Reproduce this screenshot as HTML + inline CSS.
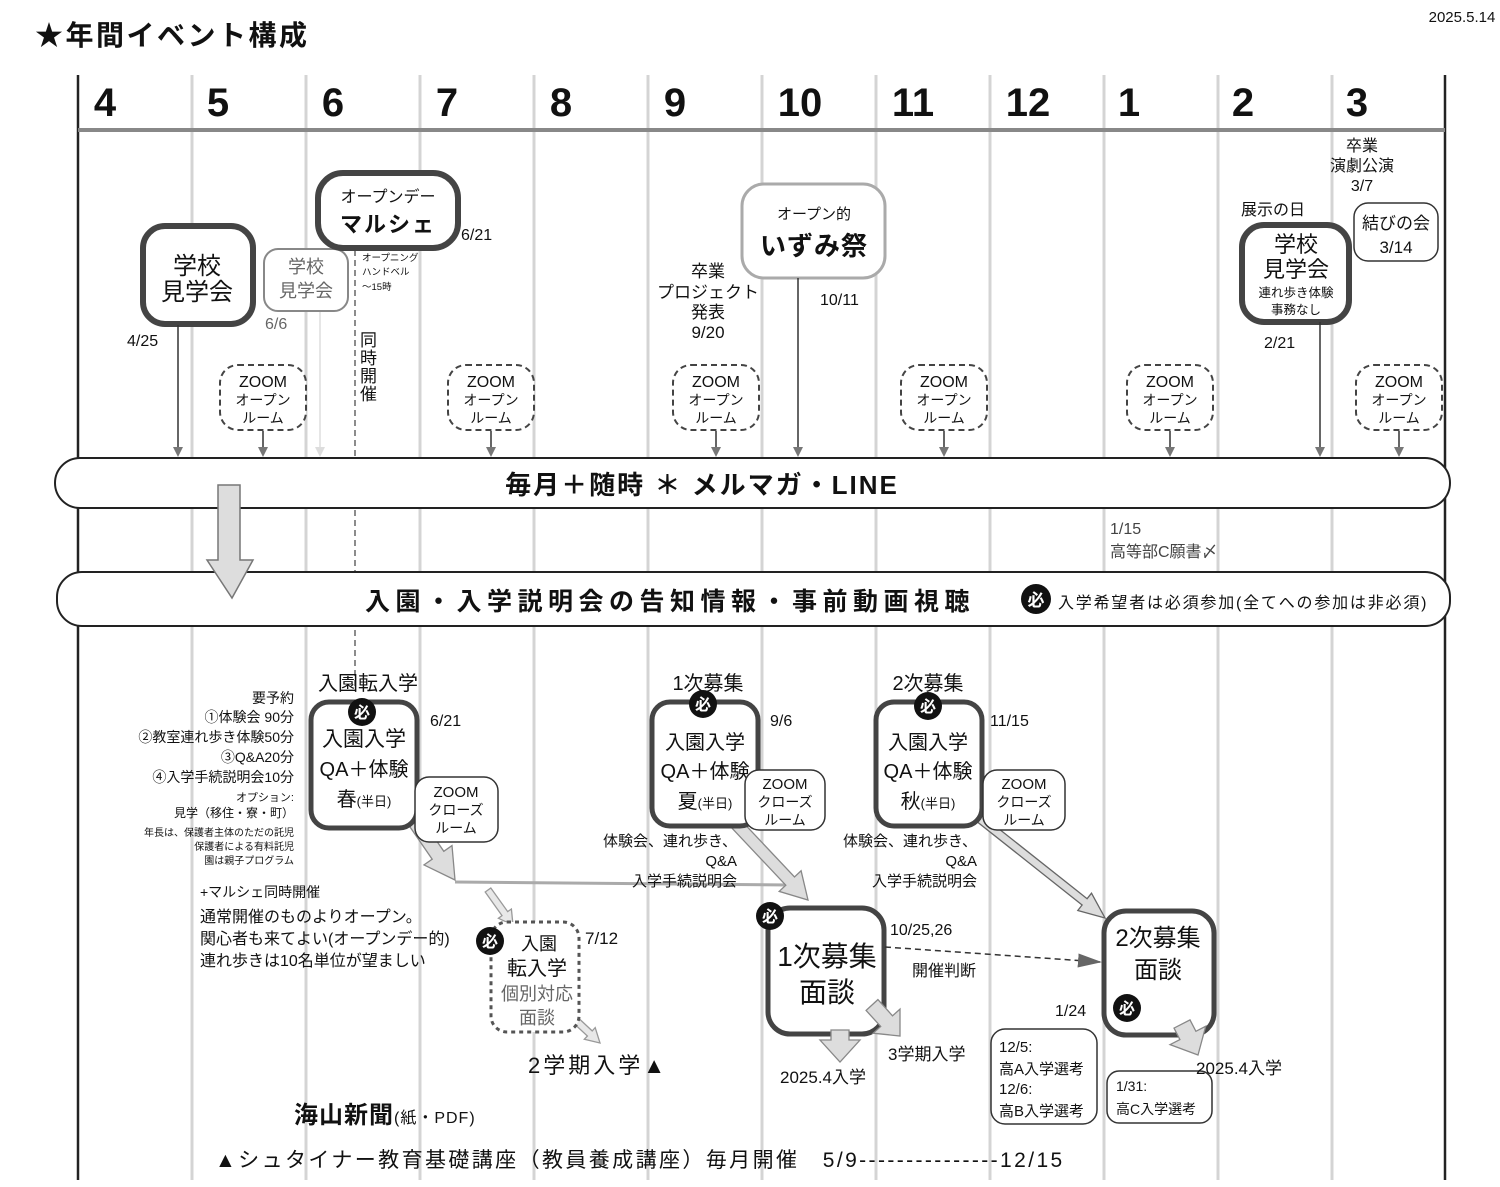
<!DOCTYPE html>
<html><head><meta charset="utf-8"><style>
html,body{margin:0;padding:0;background:#fff}
svg{display:block}
text{font-family:"Liberation Sans","Noto Sans CJK JP",sans-serif;fill:#111}
.b{font-weight:bold}
.c{text-anchor:middle}
.r{text-anchor:end}
</style></head><body>
<svg id="s" width="1500" height="1187" viewBox="0 0 1500 1187" xmlns="http://www.w3.org/2000/svg">
<defs>
<marker id="ah" markerWidth="10" markerHeight="10" refX="8" refY="5" orient="auto" markerUnits="userSpaceOnUse"><path d="M0,0 L10,5 L0,10 z" fill="#777"/></marker>
<marker id="ahl" markerWidth="10" markerHeight="10" refX="8" refY="5" orient="auto" markerUnits="userSpaceOnUse"><path d="M0,0 L10,5 L0,10 z" fill="#ddd"/></marker>
<marker id="ahd" markerWidth="24" markerHeight="14" refX="22" refY="7" orient="auto" markerUnits="userSpaceOnUse"><path d="M0,0 L24,7 L0,14 z" fill="#666"/></marker>
</defs>
<text x="35" y="45" font-size="28" class="b" letter-spacing="2.5">★年間イベント構成</text>
<text x="1462" y="22" font-size="15" class="c">2025.5.14</text>
<g stroke="#d4d4d4" stroke-width="3">
<line x1="192" y1="75" x2="192" y2="1180"/><line x1="306" y1="75" x2="306" y2="1180"/><line x1="420" y1="75" x2="420" y2="1180"/><line x1="534" y1="75" x2="534" y2="1180"/><line x1="648" y1="75" x2="648" y2="1180"/><line x1="762" y1="75" x2="762" y2="1180"/><line x1="876" y1="75" x2="876" y2="1180"/><line x1="990" y1="75" x2="990" y2="1180"/><line x1="1104" y1="75" x2="1104" y2="1180"/><line x1="1218" y1="75" x2="1218" y2="1180"/><line x1="1332" y1="75" x2="1332" y2="1180"/>
</g>
<line x1="78" y1="75" x2="78" y2="1180" stroke="#222" stroke-width="2.5"/>
<line x1="1445" y1="75" x2="1445" y2="1180" stroke="#222" stroke-width="2.5"/>
<line x1="78" y1="130" x2="1445" y2="130" stroke="#888" stroke-width="4"/>
<g font-size="40" class="b">
<text x="105" y="116" class="c">4</text><text x="218" y="116" class="c">5</text><text x="333" y="116" class="c">6</text><text x="447" y="116" class="c">7</text><text x="561" y="116" class="c">8</text><text x="675" y="116" class="c">9</text><text x="800" y="116" class="c">10</text><text x="913" y="116" class="c">11</text><text x="1028" y="116" class="c">12</text><text x="1129" y="116" class="c">1</text><text x="1243" y="116" class="c">2</text><text x="1357" y="116" class="c">3</text>
</g>

<line x1="355" y1="250" x2="355" y2="690" stroke="#666" stroke-width="1.5" stroke-dasharray="6,4"/>

<rect x="143" y="226" width="110" height="98" rx="22" fill="#fff" stroke="#444" stroke-width="6"/>
<text x="197" y="274" font-size="24" class="c">学校</text><text x="197" y="300" font-size="24" class="c">見学会</text>
<text x="127" y="346" font-size="16">4/25</text>
<line x1="178" y1="325" x2="178" y2="455" stroke="#333" stroke-width="1.5" marker-end="url(#ah)"/>

<rect x="264" y="249" width="84" height="62" rx="14" fill="#fff" stroke="#888" stroke-width="2"/>
<text x="306" y="273" font-size="18" class="c" style="fill:#666">学校</text><text x="306" y="297" font-size="18" class="c" style="fill:#666">見学会</text>
<text x="265" y="329" font-size="16" style="fill:#666">6/6</text>
<line x1="320" y1="312" x2="320" y2="455" stroke="#ddd" stroke-width="1.5" marker-end="url(#ahl)"/>

<rect x="318" y="173" width="140" height="75" rx="25" fill="#fff" stroke="#444" stroke-width="6"/>
<text x="388" y="202" font-size="16" class="c">オープンデー</text><text x="388" y="232" font-size="22" class="c b" letter-spacing="2">マルシェ</text>
<text x="461" y="240" font-size="16">6/21</text>
<text x="362" y="261" font-size="9.5">オープニング</text><text x="362" y="275" font-size="9.5">ハンドベル</text><text x="362" y="290" font-size="9.5">～15時</text>
<g font-size="17"><text x="360" y="346">同</text><text x="360" y="364">時</text><text x="360" y="382">開</text><text x="360" y="400">催</text></g>

<g id="zooms"></g>

<g font-size="17" class="c"><text x="708" y="277">卒業</text><text x="708" y="298">プロジェクト</text><text x="708" y="318">発表</text><text x="708" y="338">9/20</text></g>

<rect x="742" y="184" width="143" height="94" rx="22" fill="#fff" stroke="#aaa" stroke-width="3"/>
<text x="814" y="219" font-size="15" class="c">オープン的</text><text x="814" y="255" font-size="26" class="c b" letter-spacing="1">いずみ祭</text>
<line x1="798" y1="278" x2="798" y2="455" stroke="#333" stroke-width="1.5" marker-end="url(#ah)"/>
<text x="820" y="305" font-size="16">10/11</text>

<text x="1273" y="215" font-size="16" class="c">展示の日</text>
<rect x="1242" y="225" width="107" height="97" rx="22" fill="#fff" stroke="#444" stroke-width="6"/>
<text x="1296" y="252" font-size="22" class="c">学校</text><text x="1296" y="277" font-size="22" class="c">見学会</text>
<text x="1296" y="297" font-size="12.5" class="c">連れ歩き体験</text><text x="1296" y="314" font-size="12.5" class="c">事務なし</text>
<text x="1264" y="348" font-size="16">2/21</text>
<line x1="1320" y1="322" x2="1320" y2="455" stroke="#333" stroke-width="1.5" marker-end="url(#ah)"/>

<g font-size="16" class="c"><text x="1362" y="151">卒業</text><text x="1362" y="171">演劇公演</text><text x="1362" y="191">3/7</text></g>
<rect x="1354" y="203" width="84" height="58" rx="14" fill="#fff" stroke="#333" stroke-width="1.5"/>
<text x="1396" y="229" font-size="17" class="c">結びの会</text><text x="1396" y="253" font-size="17" class="c">3/14</text>

<rect x="55" y="458" width="1395" height="50" rx="25" fill="#fff" stroke="#222" stroke-width="2"/>
<text x="702" y="494" font-size="26" class="c b" letter-spacing="2">毎月＋随時 ＊ メルマガ・LINE</text>
<text x="1110" y="534" font-size="16" style="fill:#444">1/15</text>
<text x="1110" y="557" font-size="16" style="fill:#444">高等部C願書〆</text>

<rect x="57" y="572" width="1393" height="54" rx="25" fill="#fff" stroke="#222" stroke-width="2"/>
<text x="365" y="610" font-size="25" class="b" letter-spacing="5.5">入園・入学説明会の告知情報・事前動画視聴</text>
<circle cx="1036" cy="599" r="15" fill="#111"/><text x="1036" y="606" font-size="17" class="c b" style="fill:#fff">必</text>
<text x="1058" y="608" font-size="16" letter-spacing="1.8">入学希望者は必須参加(全てへの参加は非必須)</text>
<polygon points="218,485 240,485 240,560 253,560 232,598 207,560 218,560" fill="#ddd" stroke="#777" stroke-width="1.5"/>

<g font-size="14" class="r"><text x="294" y="703">要予約</text><text x="294" y="722">①体験会 90分</text><text x="294" y="742">②教室連れ歩き体験50分</text><text x="294" y="762">③Q&amp;A20分</text><text x="294" y="782">④入学手続説明会10分</text></g>
<text x="294" y="801" font-size="11" class="r">オプション:</text>
<text x="294" y="817" font-size="12" class="r">見学（移住・寮・町）</text>
<g font-size="10" class="r"><text x="294" y="836">年長は、保護者主体のただの託児</text><text x="294" y="850">保護者による有料託児</text><text x="294" y="864">園は親子プログラム</text></g>
<text x="200" y="897" font-size="14">+マルシェ同時開催</text>
<g font-size="16"><text x="200" y="922">通常開催のものよりオープン。</text><text x="200" y="944">関心者も来てよい(オープンデー的)</text><text x="200" y="966">連れ歩きは10名単位が望ましい</text></g>

<polyline points="455,882 790,885" fill="none" stroke="#aaa" stroke-width="3"/>

<g id="arrows"></g>

<text x="368" y="690" font-size="20" class="c">入園転入学</text>
<rect x="311" y="702" width="106" height="126" rx="18" fill="#fff" stroke="#444" stroke-width="5"/>
<text x="364" y="746" font-size="21" class="c">入園入学</text><text x="364" y="776" font-size="20" class="c">QA＋体験</text><text x="364" y="806" font-size="20" class="c">春<tspan font-size="13">(半日)</tspan></text>
<text x="430" y="726" font-size="16">6/21</text>
<rect x="415" y="777" width="83" height="65" rx="14" fill="#fff" stroke="#333" stroke-width="1.5"/>
<text x="456" y="797" font-size="15" class="c">ZOOM</text><text x="456" y="815" font-size="14" class="c">クローズ</text><text x="456" y="833" font-size="14" class="c">ルーム</text>

<text x="708" y="690" font-size="20" class="c">1次募集</text>
<rect x="652" y="702" width="106" height="124" rx="18" fill="#fff" stroke="#444" stroke-width="5"/>
<text x="705" y="749" font-size="20" class="c">入園入学</text><text x="705" y="778" font-size="20" class="c">QA＋体験</text><text x="705" y="808" font-size="20" class="c">夏<tspan font-size="13">(半日)</tspan></text>
<text x="770" y="726" font-size="16">9/6</text>
<rect x="745" y="770" width="80" height="60" rx="14" fill="#fff" stroke="#333" stroke-width="1.5"/>
<text x="785" y="789" font-size="15" class="c">ZOOM</text><text x="785" y="807" font-size="14" class="c">クローズ</text><text x="785" y="825" font-size="14" class="c">ルーム</text>
<g font-size="15" class="r"><text x="737" y="846">体験会、連れ歩き、</text><text x="737" y="866">Q&amp;A</text><text x="737" y="886">入学手続説明会</text></g>

<text x="928" y="690" font-size="20" class="c">2次募集</text>
<rect x="876" y="702" width="106" height="124" rx="18" fill="#fff" stroke="#444" stroke-width="5"/>
<text x="928" y="749" font-size="20" class="c">入園入学</text><text x="928" y="778" font-size="20" class="c">QA＋体験</text><text x="928" y="808" font-size="20" class="c">秋<tspan font-size="13">(半日)</tspan></text>
<text x="990" y="726" font-size="16">11/15</text>
<rect x="983" y="770" width="82" height="60" rx="14" fill="#fff" stroke="#333" stroke-width="1.5"/>
<text x="1024" y="789" font-size="15" class="c">ZOOM</text><text x="1024" y="807" font-size="14" class="c">クローズ</text><text x="1024" y="825" font-size="14" class="c">ルーム</text>
<g font-size="15" class="r"><text x="977" y="846">体験会、連れ歩き、</text><text x="977" y="866">Q&amp;A</text><text x="977" y="886">入学手続説明会</text></g>

<rect x="491" y="922" width="88" height="110" rx="16" fill="#fff" stroke="#555" stroke-width="3" stroke-dasharray="4,4"/>
<text x="539" y="950" font-size="18" class="c">入園</text><text x="537" y="975" font-size="20" class="c">転入学</text>
<text x="537" y="1000" font-size="18" class="c" style="fill:#666">個別対応</text><text x="537" y="1024" font-size="18" class="c" style="fill:#666">面談</text>
<text x="585" y="944" font-size="17">7/12</text>
<text x="528" y="1073" font-size="22" letter-spacing="3">2学期入学▲</text>

<rect x="768" y="908" width="116" height="126" rx="22" fill="#fff" stroke="#444" stroke-width="5"/>
<text x="827" y="966" font-size="28" class="c">1次募集</text><text x="827" y="1002" font-size="28" class="c">面談</text>
<text x="890" y="935" font-size="16">10/25,26</text>
<line x1="885" y1="947" x2="1100" y2="962" stroke="#333" stroke-width="1.5" stroke-dasharray="6,4" marker-end="url(#ahd)"/>
<text x="912" y="976" font-size="16">開催判断</text>
<text x="780" y="1083" font-size="17">2025.4入学</text>
<text x="888" y="1060" font-size="17">3学期入学</text>

<rect x="991" y="1029" width="106" height="95" rx="14" fill="#fff" stroke="#333" stroke-width="1.5"/>
<g font-size="15"><text x="999" y="1052">12/5:</text><text x="999" y="1074">高A入学選考</text><text x="999" y="1094">12/6:</text><text x="999" y="1116">高B入学選考</text></g>

<rect x="1104" y="911" width="110" height="124" rx="22" fill="#fff" stroke="#444" stroke-width="5"/>
<text x="1158" y="946" font-size="24" class="c">2次募集</text><text x="1158" y="978" font-size="24" class="c">面談</text>
<text x="1055" y="1016" font-size="16">1/24</text>
<rect x="1107" y="1071" width="105" height="52" rx="12" fill="#fff" stroke="#333" stroke-width="1.5"/>
<text x="1116" y="1091" font-size="14">1/31:</text><text x="1116" y="1114" font-size="14">高C入学選考</text>

<g id="arrows2"></g>
<text x="1196" y="1074" font-size="17">2025.4入学</text>

<g id="hitsu"></g>

<text x="294" y="1123" font-size="24" class="b" letter-spacing="1">海山新聞<tspan font-size="16" font-weight="normal">(紙・PDF)</tspan></text>
<text x="215" y="1167" font-size="21" letter-spacing="2.4">▲シュタイナー教育基礎講座（教員養成講座）毎月開催　5/9---------------12/15</text>
</svg>
<script>
var NS="http://www.w3.org/2000/svg";
function el(p,tag,a,t){var e=document.createElementNS(NS,tag);for(var k in a)e.setAttribute(k,a[k]);if(t)e.textContent=t;p.appendChild(e);return e;}
var z=document.getElementById("zooms");
[263,491,716,944,1170,1399].forEach(function(cx){
 el(z,"rect",{x:cx-43,y:365,width:86,height:65,rx:18,fill:"#fff",stroke:"#444","stroke-width":2,"stroke-dasharray":"6,4"});
 el(z,"text",{x:cx,y:387,"font-size":16,"class":"c"},"ZOOM");
 el(z,"text",{x:cx,y:405,"font-size":14,"class":"c"},"オープン");
 el(z,"text",{x:cx,y:423,"font-size":14,"class":"c"},"ルーム");
 el(z,"line",{x1:cx,y1:431,x2:cx,y2:455,stroke:"#333","stroke-width":1.5,"marker-end":"url(#ah)"});
});
function fat(g,x1,y1,x2,y2,w,hw,hl,fill,stroke){
 var dx=x2-x1,dy=y2-y1,L=Math.hypot(dx,dy),ux=dx/L,uy=dy/L,px=-uy,py=ux;
 var bx=x2-ux*hl,by=y2-uy*hl;
 var p=[[x1+px*w/2,y1+py*w/2],[bx+px*w/2,by+py*w/2],[bx+px*hw/2,by+py*hw/2],[x2,y2],[bx-px*hw/2,by-py*hw/2],[bx-px*w/2,by-py*w/2],[x1-px*w/2,y1-py*w/2]];
 el(g,"polygon",{points:p.map(function(q){return q[0].toFixed(1)+","+q[1].toFixed(1)}).join(" "),fill:fill,stroke:stroke,"stroke-width":1.3});
}
var a=document.getElementById("arrows");
fat(a,400,800,455,880,14,34,30,"#ddd","#888");
fat(a,488,890,513,925,7,16,14,"#e8e8e8","#999");
fat(a,725,812,808,900,12,30,26,"#ddd","#888");
fat(a,975,815,1105,918,8,22,26,"#ddd","#666");
fat(a,570,1015,600,1043,7,16,14,"#e8e8e8","#999");
var a2=document.getElementById("arrows2");
fat(a2,840,1030,840,1062,18,40,22,"#ddd","#888");
fat(a2,872,1005,900,1036,16,36,20,"#ddd","#888");
fat(a2,1182,1024,1198,1055,18,40,22,"#ddd","#888");
var h=document.getElementById("hitsu");
[[362,712],[703,704],[928,706],[490,941],[770,916],[1127,1008]].forEach(function(c){
 el(h,"circle",{cx:c[0],cy:c[1],r:14,fill:"#111"});
 el(h,"text",{x:c[0],y:c[1]+6,"font-size":16,"class":"c b",style:"fill:#fff"},"必");
});
</script>
</body></html>
